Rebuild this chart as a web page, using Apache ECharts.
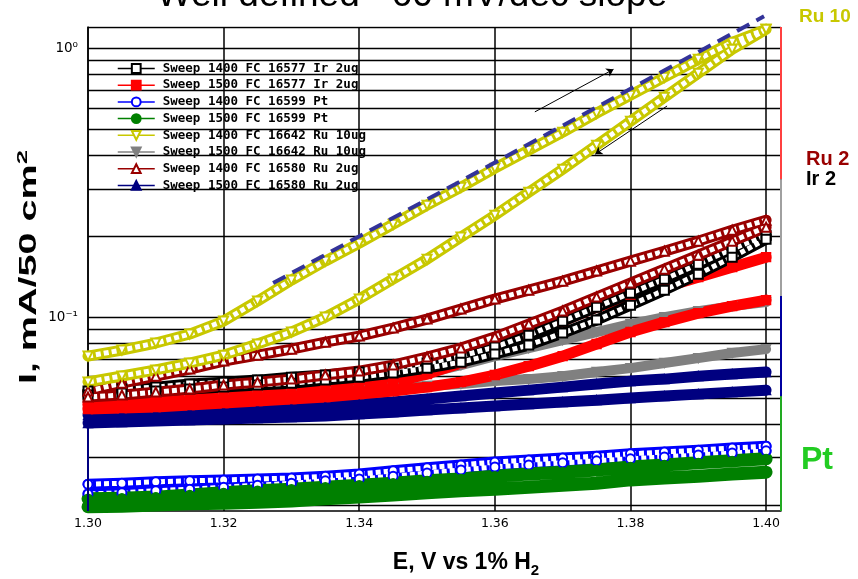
<!DOCTYPE html>
<html><head><meta charset="utf-8">
<script src="https://cdn.jsdelivr.net/npm/echarts@6/dist/echarts.min.js"></script>
<style>html,body{margin:0;padding:0;background:#fff}#c{width:858px;height:579px}</style>
</head><body><div id="c"></div>
<script>
// ---- data (E in V, I in mA/50 cm2) ----
const E = [1.300,1.305,1.310,1.315,1.320,1.325,1.330,1.335,1.340,1.345,1.350,1.355,1.360,1.365,1.370,1.375,1.380,1.385,1.390,1.395,1.400];

const ir2_1400_fwd = [0.0531,0.0540,0.0549,0.0564,0.0573,0.0583,0.0598,0.0609,0.0625,0.0646,0.0675,0.0716,0.0774,0.0857,0.0966,0.1089,0.1228,0.1384,0.1574,0.1790,0.2018];
const ir2_1400_rev = [0.0513,0.0522,0.0531,0.0540,0.0549,0.0559,0.0568,0.0583,0.0598,0.0619,0.0646,0.0680,0.0729,0.0787,0.0872,0.0975,0.1108,0.1260,0.1445,0.1671,0.1950];
const ir2_1500_fwd = [0.0475,0.0479,0.0487,0.0496,0.0504,0.0513,0.0522,0.0535,0.0549,0.0573,0.0614,0.0675,0.0760,0.0857,0.0966,0.1089,0.1187,0.1293,0.1408,0.1534,0.1671];
const ir2_1500_rev = [0.0455,0.0459,0.0463,0.0471,0.0479,0.0487,0.0496,0.0504,0.0517,0.0531,0.0549,0.0573,0.0609,0.0657,0.0716,0.0794,0.0880,0.0958,0.1035,0.1099,0.1157];
const pt_1400_fwd = [0.0239,0.0241,0.0244,0.0246,0.0248,0.0250,0.0252,0.0256,0.0261,0.0268,0.0275,0.0282,0.0289,0.0294,0.0299,0.0304,0.0310,0.0315,0.0320,0.0326,0.0331];
const pt_1400_rev = [0.0220,0.0222,0.0226,0.0229,0.0233,0.0237,0.0241,0.0246,0.0250,0.0256,0.0263,0.0270,0.0277,0.0282,0.0287,0.0292,0.0297,0.0302,0.0307,0.0312,0.0318];
const pt_1500_fwd = [0.0211,0.0212,0.0214,0.0218,0.0222,0.0226,0.0229,0.0233,0.0237,0.0241,0.0246,0.0250,0.0256,0.0261,0.0265,0.0270,0.0277,0.0282,0.0287,0.0292,0.0297];
const pt_1500_rev = [0.0197,0.0198,0.0200,0.0202,0.0203,0.0205,0.0207,0.0211,0.0214,0.0218,0.0222,0.0226,0.0229,0.0233,0.0237,0.0241,0.0248,0.0252,0.0256,0.0261,0.0265];
const ru10_1400_fwd = [0.0716,0.0754,0.0801,0.0865,0.0967,0.1147,0.1373,0.1616,0.1884,0.2217,0.2609,0.3043,0.3581,0.4177,0.4873,0.5734,0.6689,0.7802,0.9100,1.0527,1.1765];
const ru10_1400_rev = [0.0574,0.0604,0.0636,0.0675,0.0722,0.0794,0.0880,0.1000,0.1167,0.1385,0.1643,0.1984,0.2394,0.2915,0.3550,0.4360,0.5354,0.6576,0.8074,0.9915,1.1765];
const ru10_1500_fwd = [0.0496,0.0500,0.0504,0.0513,0.0522,0.0531,0.0540,0.0549,0.0564,0.0588,0.0619,0.0663,0.0716,0.0767,0.0821,0.0880,0.0942,0.1000,0.1053,0.1099,0.1137];
const ru10_1500_rev = [0.0479,0.0483,0.0487,0.0491,0.0500,0.0509,0.0517,0.0526,0.0535,0.0545,0.0554,0.0564,0.0578,0.0588,0.0603,0.0625,0.0646,0.0675,0.0704,0.0735,0.0760];
const ru2_1400_fwd = [0.0531,0.0568,0.0603,0.0641,0.0686,0.0722,0.0760,0.0807,0.0850,0.0910,0.0983,0.1071,0.1167,0.1260,0.1361,0.1483,0.1615,0.1759,0.1917,0.2106,0.2294];
const ru2_1400_rev = [0.0504,0.0513,0.0526,0.0540,0.0559,0.0573,0.0588,0.0609,0.0630,0.0663,0.0710,0.0767,0.0843,0.0942,0.1053,0.1187,0.1338,0.1508,0.1700,0.1917,0.2161];
const ru2_1500_fwd = [0.0432,0.0436,0.0440,0.0443,0.0447,0.0455,0.0459,0.0467,0.0475,0.0483,0.0496,0.0509,0.0522,0.0535,0.0549,0.0564,0.0578,0.0588,0.0603,0.0614,0.0625];
const ru2_1500_rev = [0.0404,0.0407,0.0411,0.0414,0.0418,0.0421,0.0425,0.0429,0.0436,0.0443,0.0451,0.0459,0.0467,0.0475,0.0483,0.0491,0.0500,0.0509,0.0517,0.0526,0.0535];

const seriesNames = [
  'Sweep 1400 FC 16577 Ir 2ug',
  'Sweep 1500 FC 16577 Ir 2ug',
  'Sweep 1400 FC 16599 Pt',
  'Sweep 1500 FC 16599 Pt',
  'Sweep 1400 FC 16642 Ru 10ug',
  'Sweep 1500 FC 16642 Ru 10ug',
  'Sweep 1400 FC 16580 Ru 2ug',
  'Sweep 1500 FC 16580 Ru 2ug'
];

const tafelE = [1.3273, 1.3997];
const tafelI = [0.1338, 1.315];
const arrowFwdE = [1.3659, 1.3775];
const arrowFwdI = [0.580, 0.835];
const arrowRevE = [1.3854, 1.3748];
const arrowRevI = [0.610, 0.4036];

const gridI = [0.02,0.03,0.04,0.05,0.06,0.07,0.08,0.09,0.1,0.2,0.3,0.4,0.5,0.6,0.7,0.8,0.9,1];
const xTickValues = [1.30,1.32,1.34,1.36,1.38,1.40];
const xTickLabels = ['1.30','1.32','1.34','1.36','1.38','1.40'];
const yTickValues = [1, 0.1];
const yTickLabels = ['10\u2070', '10\u207B\u00B9'];
const rightFrameI = [1.2, 0.326, 0.1197, 0.0508, 0.019];
const leftFrameI = [0.0407, 0.019];

const titleText = 'Well defined ~60 mV/dec slope';
const xTitle = 'E, V vs 1% H{s|2}';
const yTitle = 'I, mA/50 cm{p|2}';
const notes = ['Ru 10', 'Ru 2', 'Ir 2', 'Pt'];

// ---- chart ----
const X_MIN = 1.30, X_MAX = 1.4022, Y_MIN = 0.019, Y_MAX = 1.2;

const sets = [
  [ir2_1400_fwd, ir2_1400_rev],
  [ir2_1500_fwd, ir2_1500_rev],
  [pt_1400_fwd, pt_1400_rev],
  [pt_1500_fwd, pt_1500_rev],
  [ru10_1400_fwd, ru10_1400_rev],
  [ru10_1500_fwd, ru10_1500_rev],
  [ru2_1400_fwd, ru2_1400_rev],
  [ru2_1500_fwd, ru2_1500_rev]
];
const looks = [
  {color:'#000000', symbol:'emptyRect', open:true, rotate:0, width:11},
  {color:'#ff0000', symbol:'rect', open:false, rotate:0, width:11},
  {color:'#0000ff', symbol:'emptyCircle', open:true, rotate:0, width:11},
  {color:'#008000', symbol:'circle', open:false, rotate:0, width:13},
  {color:'#c8c800', symbol:'emptyTriangle', open:true, rotate:180, width:11},
  {color:'#808080', symbol:'triangle', open:false, rotate:180, width:10},
  {color:'#990000', symbol:'emptyTriangle', open:true, rotate:0, width:11},
  {color:'#000080', symbol:'triangle', open:false, rotate:0, width:11}
];
const drawOrder = [2, 3, 7, 5, 1, 0, 6, 4];

function sweep(fwd, rev) {
  const a = fwd.map((v, i) => [E[i], v]);
  const b = rev.map((v, i) => [E[i], v]).reverse();
  return a.concat([['-', '-']], b);
}

const series = [];
series.push({
  type: 'lines', coordinateSystem: 'cartesian2d', silent: true, z: 1,
  lineStyle: {color: '#000', width: 1.4, opacity: 1},
  data: gridI.concat([Y_MAX]).map(v => ({coords: [[X_MIN, v], [X_MAX, v]]}))
});

drawOrder.forEach(k => {
  const lk = looks[k];
  const data = sweep(sets[k][0], sets[k][1]);
  series.push({
    type: 'line', data, symbol: 'none', silent: true, z: 2,
    lineStyle: {color: lk.color, width: lk.width, join: 'round', cap: 'round'}
  });
  if (lk.open) {
    series.push({
      type: 'line', data, symbol: 'none', silent: true, z: 2,
      lineStyle: {color: '#ffffff', width: 5, type: [5, 3], join: 'round'}
    });
  }
  series.push({
    type: 'line', name: seriesNames[k], data, z: 3,
    symbol: lk.symbol, symbolSize: 9, symbolRotate: lk.rotate, showAllSymbol: true,
    itemStyle: {color: lk.color, borderColor: lk.color, borderWidth: 1.4},
    lineStyle: {color: lk.color, width: 1, opacity: 0}
  });
});

series.push({
  type: 'line', data: tafelE.map((e, i) => [e, tafelI[i]]), symbol: 'none', clip: false, z: 4,
  lineStyle: {color: '#333399', width: 4, type: [14, 8]}
});
series.push({
  type: 'lines', coordinateSystem: 'cartesian2d', silent: true, z: 4,
  symbol: ['none', 'arrow'], symbolSize: 7,
  lineStyle: {color: '#000', width: 1, opacity: 1},
  data: [
    {coords: arrowFwdE.map((e, i) => [e, arrowFwdI[i]])},
    {coords: arrowRevE.map((e, i) => [e, arrowRevI[i]])}
  ]
});
const rightColors = ['#ff4040', '#a0a0a0', '#0000a0', '#22aa22'];
const frameSegs = [];
for (let i = 0; i < rightFrameI.length - 1; i++) {
  frameSegs.push({coords: [[X_MAX, rightFrameI[i]], [X_MAX, rightFrameI[i + 1]]], lineStyle: {color: rightColors[i]}});
}
frameSegs.push({coords: [[X_MIN, leftFrameI[0]], [X_MIN, leftFrameI[1]]], lineStyle: {color: '#000080'}});
series.push({
  type: 'lines', coordinateSystem: 'cartesian2d', silent: true, z: 5,
  lineStyle: {width: 2, opacity: 1}, data: frameSegs
});

const bold = (size, fill) => ({fontFamily: 'Liberation Sans', fontWeight: 'bold', fontSize: size, fill});

const chart = echarts.init(document.getElementById('c'), null, {renderer: 'canvas'});
chart.setOption({
  animation: false,
  backgroundColor: '#ffffff',
  grid: {left: 88, right: 77, top: 27, bottom: 68, containLabel: false},
  legend: {
    data: seriesNames, orient: 'vertical', left: 112, top: 57,
    itemWidth: 37, itemHeight: 11, itemGap: 3.7,
    textStyle: {fontFamily: 'DejaVu Sans Mono', fontWeight: 'bold', fontSize: 12.5, color: '#000', padding: [0, 0, 0, 3]},
    lineStyle: {width: 1.5, opacity: 1},
    selectedMode: false
  },
  xAxis: {
    type: 'value', min: X_MIN, max: X_MAX, interval: 0.02,
    axisLine: {show: true, onZero: false, lineStyle: {color: '#000', width: 1.5}},
    axisTick: {show: false},
    splitLine: {show: true, lineStyle: {color: '#000', width: 1.5}},
    axisLabel: {
      fontFamily: 'DejaVu Sans', fontSize: 12.5, color: '#000', margin: 6, showMaxLabel: false,
      formatter: v => { const i = xTickValues.findIndex(t => Math.abs(t - v) < 1e-6); return i >= 0 ? xTickLabels[i] : ''; }
    }
  },
  yAxis: {
    type: 'log', logBase: 10, min: Y_MIN, max: Y_MAX,
    axisLine: {show: true, lineStyle: {color: '#000', width: 1.5}},
    axisTick: {show: false},
    splitLine: {show: false},
    axisLabel: {
      fontFamily: 'DejaVu Sans', fontSize: 13.5, color: '#000', margin: 10,
      formatter: v => { const i = yTickValues.findIndex(t => Math.abs(Math.log10(v) - Math.log10(t)) < 1e-6); return i >= 0 ? yTickLabels[i] : ''; }
    }
  },
  graphic: [
    {type: 'text', x: 412, y: -4, silent: true, style: {text: titleText, fontFamily: 'Liberation Sans', fontSize: 37, fill: '#000', align: 'center', verticalAlign: 'middle'}},
    {type: 'text', x: 466, y: 563, silent: true, style: Object.assign({text: xTitle, align: 'center', verticalAlign: 'middle', lineHeight: 30,
      rich: {s: Object.assign(bold(15, '#000'), {lineHeight: 15, verticalAlign: 'bottom'})}}, bold(23, '#000'))},
    {type: 'text', x: 30, y: 267, rotation: Math.PI / 2, scaleX: 1.72, silent: true, style: Object.assign({text: yTitle, align: 'center', verticalAlign: 'middle', lineHeight: 30,
      rich: {p: Object.assign(bold(15, '#000'), {lineHeight: 15, verticalAlign: 'top'})}}, bold(23, '#000'))},
    {type: 'text', x: 799, y: 17, silent: true, style: Object.assign({text: notes[0], align: 'left', verticalAlign: 'middle'}, bold(19, '#c8c800'))},
    {type: 'text', x: 806, y: 159, silent: true, style: Object.assign({text: notes[1], align: 'left', verticalAlign: 'middle'}, bold(20, '#990000'))},
    {type: 'text', x: 806, y: 179, silent: true, style: Object.assign({text: notes[2], align: 'left', verticalAlign: 'middle'}, bold(20, '#000'))},
    {type: 'text', x: 801, y: 460, silent: true, style: Object.assign({text: notes[3], align: 'left', verticalAlign: 'middle'}, bold(32, '#22cc22'))}
  ],
  series
});
</script>
</body></html>
